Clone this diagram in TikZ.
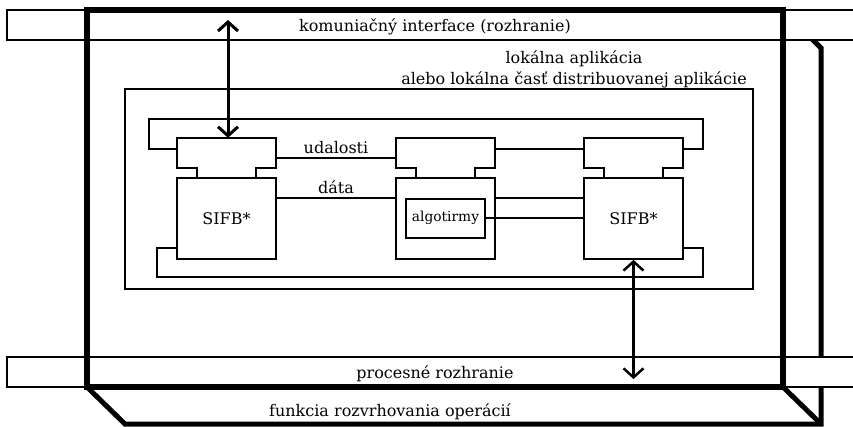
\documentclass[tikz,border=0pt]{standalone}
\usepackage{fontspec}
\setmainfont{DejaVu Serif}
\usepackage{tikz}
\usetikzlibrary{arrows.meta}

\begin{document}
\begin{tikzpicture}
    [
      x=1pt, y=-1pt,
      every node/.style={font=\fontsize{16}{19}\selectfont, inner sep=0pt},
      frame/.style={line width=5.5pt},
      face/.style={line width=5pt},
      band/.style={draw, line width=1.4pt, fill=white},
      appbox/.style={line width=2.5pt},
      link/.style={line width=1.8pt},
      evpart/.style={minimum width=99pt, minimum height=30pt},
      datapart/.style={draw, line width=1.8pt, minimum width=99pt, minimum height=81pt},
      algbox/.style={draw, line width=2pt, minimum width=79pt, minimum height=39pt, font=\fontsize{13.8}{16}\selectfont},
      bigarrow/.style={line width=3pt, {Straight Barb[length=9pt,width=20pt]}-{Straight Barb[length=9pt,width=20pt]}}
    ]
    \useasboundingbox (0,0) rectangle (853,426);

    % back side of the box
    \draw[face] (87,387) -- (125,424) -- (821,424) -- (821,48) -- (783,10);
    \draw[face] (783,387) -- (821,424);

    % interfaces
    \draw[band] (7,10) rectangle (875,40);
    \draw[band] (7,357) rectangle (875,387);

    % front of the box
    \draw[frame] (87,10) rectangle (783,387);

    \node[anchor=base] (commlbl) at (435,31) {komuniačný interface (rozhranie)};
    \node[anchor=base] (applbl) at (574,63) {lokálna aplikácia};
    \node[anchor=base] (applbl2) at (574,84) {alebo lokálna časť distribuovanej aplikácie};
    \node[anchor=base] (proclbl) at (435,378) {procesné rozhranie};
    \node[anchor=base] (schedlbl) at (390,416) {funkcia rozvrhovania operácií};

    % application
    \draw[appbox] (125,89) rectangle (753,289);

    % function blocks
    \node[evpart] (ev1) at (226.5,153) {};
    \node[datapart] (fb1) at (226.5,218.5) {SIFB*};
    \node[evpart] (ev2) at (445.5,153) {};
    \node[datapart] (fb2) at (445.5,218.5) {};
    \node[algbox] (alg) at (445.5,218) {algotirmy};
    \node[evpart] (ev3) at (633.5,153) {};
    \node[datapart] (fb3) at (633.5,218.5) {SIFB*};

    \foreach \e in {ev1,ev2,ev3}
      \draw[link] (\e.south west) ++(20,10) -- ++(0,-10) -- (\e.south west) -- (\e.north west)
        -- (\e.north east) -- (\e.south east) -- ++(-20,0) -- ++(0,10);

    % connections
    \draw[link] ([yshift=-5pt]ev1.east) -- node[above=3pt] (evlbl) {udalosti} ([yshift=-5pt]ev2.west);
    \draw[link] ([yshift=20.5pt]fb1.east) -- node[above=3pt] (datlbl) {dáta} ([yshift=20.5pt]fb2.west);
    \draw[link] ([yshift=4pt]ev2.east) -- ([yshift=4pt]ev3.west);
    \draw[link] ([yshift=20.5pt]fb2.east) -- ([yshift=20.5pt]fb3.west);
    \draw[link] (alg.east) -- (alg.east -| fb3.west);

    \coordinate (loopNE) at (703,119);
    \coordinate (loopNW) at (149,119);
    \coordinate (loopSE) at (703,277);
    \coordinate (loopSW) at (157,277);
    \draw[link] ([yshift=4pt]ev3.east) -| (loopNE) -- (loopNW) |- ([yshift=4pt]ev1.west);
    \draw[link] ([yshift=-29.5pt]fb3.east) -| (loopSE) -- (loopSW) |- ([yshift=-29.5pt]fb1.west);

    % access to the interfaces
    \coordinate (commpt) at (228,20);
    \draw[bigarrow] (commpt) -- (commpt |- ev1.north);
    \coordinate (procpt) at (633.5,379);
    \draw[bigarrow, line width=2.5pt] (fb3.south) -- (procpt);
\end{tikzpicture}
\end{document}
